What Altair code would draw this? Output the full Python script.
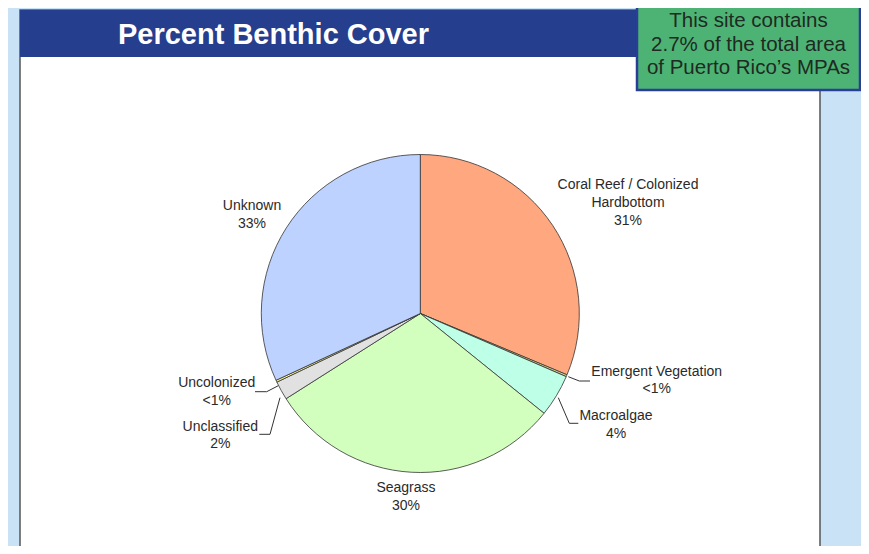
import altair as alt
import pandas as pd

# ---------------- data ----------------
categories = ["Coral Reef / Colonized Hardbottom", "Emergent Vegetation", "Macroalgae",
              "Seagrass", "Unclassified", "Uncolonized", "Unknown"]
percent = [31.3, 0.2, 4.3, 30.2, 1.9, 0.2, 31.9]
pct_labels = ["31%", "<1%", "4%", "30%", "2%", "<1%", "33%"]
colors = ["#FFA77F", "#D6D68F", "#BEFFE8", "#D3FFBE", "#E1E1E1", "#FFFF99", "#BED2FF"]
title_text = "Percent Benthic Cover"
note_lines = ["This site contains", "2.7% of the total area", "of Puerto Rico\u2019s MPAs"]

# ---------------- layout (annotation placement, pixels) ----------------
CX, CY, R = 412.3, 305.5, 159
display_names = {"Coral Reef / Colonized Hardbottom": "Coral Reef / Colonized\nHardbottom"}
# position of the first line of each label
label_pos = {
    "Coral Reef / Colonized Hardbottom": (620, 177),
    "Emergent Vegetation": (648.7, 363.7),
    "Macroalgae": (608, 408),
    "Seagrass": (398, 480),
    "Unclassified": (212.3, 418.7),
    "Uncolonized": (208.7, 375.3),
    "Unknown": (244, 198),
}
leaders = {
    "Emergent Vegetation": [(560.3, 368.7), (571.3, 373), (582, 373)],
    "Macroalgae": [(550.3, 389.7), (561.3, 415.3), (570.3, 415.3)],
    "Uncolonized": [(270.3, 377.7), (258.7, 383.7), (247, 383.7)],
    "Unclassified": [(272, 389.7), (262, 426.3), (251.3, 426.3)],
}

pie_df = pd.DataFrame({"category": categories, "value": percent, "idx": list(range(len(categories)))})

lab_rows = []
for c, p in zip(categories, pct_labels):
    x, y = label_pos[c]
    lab_rows.append({"label": display_names.get(c, c) + "\n" + p, "lx": x, "ly": y})
lab_df = pd.DataFrame(lab_rows)

lead_rows = []
for c, pts in leaders.items():
    for k, (x, y) in enumerate(pts):
        lead_rows.append({"seg": c, "k": k, "px": x, "py": y})
lead_df = pd.DataFrame(lead_rows)

one = alt.Data(values=[{}])

panel = alt.Chart(one).mark_rect(fill="white", stroke="#555555", strokeWidth=1.5).encode(
    x=alt.value(12), x2=alt.value(812), y=alt.value(2), y2=alt.value(600))

header = alt.Chart(one).mark_rect(fill="#253E8D").encode(
    x=alt.value(12), x2=alt.value(812), y=alt.value(2), y2=alt.value(49))

pie = alt.Chart(pie_df).mark_arc(radius=R, stroke="#333333", strokeWidth=0.8).encode(
    theta=alt.Theta("value:Q", stack=True),
    order=alt.Order("idx:Q"),
    color=alt.Color("category:N", scale=alt.Scale(domain=categories, range=colors), legend=None),
    x=alt.value(CX), y=alt.value(CY))

lead = alt.Chart(lead_df).mark_line(color="#333333", strokeWidth=1).encode(
    x=alt.X("px:Q", scale=None, axis=None),
    y=alt.Y("py:Q", scale=None, axis=None),
    detail="seg:N", order="k:Q")

labels = alt.Chart(lab_df).mark_text(
    font="Liberation Sans", fontSize=14, color="#2A2A2A", lineBreak="\n",
    lineHeight=17.8, align="center", baseline="middle").encode(
    x=alt.X("lx:Q", scale=None, axis=None),
    y=alt.Y("ly:Q", scale=None, axis=None),
    text="label:N")

title = alt.Chart(one).mark_text(
    text=title_text, font="Liberation Sans", fontSize=29, fontWeight="bold",
    color="white", align="center", baseline="middle").encode(
    x=alt.value(265.5), y=alt.value(27))

note_box = alt.Chart(one).mark_rect(fill="#4DB374", stroke="#2B3E97", strokeWidth=2.5).encode(
    x=alt.value(629), x2=alt.value(852), y=alt.value(-12), y2=alt.value(82))

note = alt.Chart(one).mark_text(
    text="\n".join(note_lines), lineBreak="\n", lineHeight=23.5,
    font="Liberation Sans", fontSize=20.5, color="#1F2A22",
    align="center", baseline="middle").encode(
    x=alt.value(740.5), y=alt.value(13))

chart = alt.layer(panel, header, pie, lead, labels, title, note_box, note).resolve_scale(
    x="independent", y="independent").properties(
    width=853, height=538, padding=0,
    autosize=alt.AutoSizeParams(type="none"),
    background="#C9E2F5").configure_view(stroke=None)

chart.save("out.html", embed_options={"renderer": "svg", "actions": False})
